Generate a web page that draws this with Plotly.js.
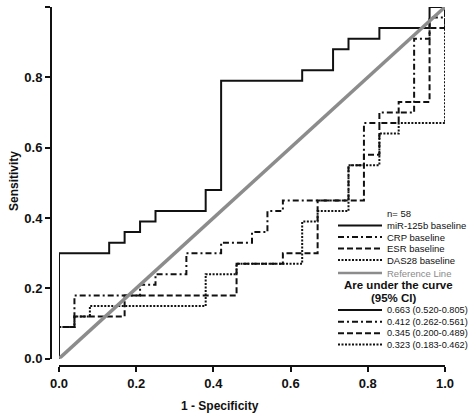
<!DOCTYPE html>
<html><head><meta charset="utf-8">
<script src="https://cdn.plot.ly/plotly-3.0.1.min.js"></script>
<style>html,body{margin:0;padding:0;background:#fff;}#chart{width:472px;height:416px;}</style>
</head><body><div id="chart"></div>
<script>
// ROC step points (1 - specificity, sensitivity)
const mirX = [0, 0, 0.13, 0.17, 0.21, 0.25, 0.38, 0.42, 0.63, 0.71, 0.75, 0.83, 0.96, 1.0];
const mirY = [0, 0.30, 0.33, 0.36, 0.39, 0.42, 0.48, 0.79, 0.82, 0.88, 0.91, 0.94, 1.0, 1.0];
const crpX = [0, 0, 0.04, 0.21, 0.25, 0.33, 0.42, 0.50, 0.54, 0.58, 0.75, 0.79, 0.83, 0.92, 0.96, 1.0];
const crpY = [0, 0.09, 0.18, 0.21, 0.24, 0.30, 0.33, 0.36, 0.42, 0.45, 0.55, 0.67, 0.70, 0.91, 0.97, 1.0];
const esrX = [0, 0, 0.04, 0.17, 0.46, 0.58, 0.67, 0.79, 0.83, 0.88, 0.96, 1.0];
const esrY = [0, 0.09, 0.12, 0.18, 0.27, 0.30, 0.45, 0.58, 0.67, 0.73, 0.94, 1.0];
const dasX = [0, 0, 0.04, 0.08, 0.38, 0.46, 0.63, 0.67, 0.75, 0.83, 0.88, 1.0];
const dasY = [0, 0.09, 0.12, 0.15, 0.24, 0.27, 0.39, 0.42, 0.55, 0.64, 0.67, 1.0];
const refX = [0, 1];
const refY = [0, 1];

const tickVals = [0, 0.2, 0.4, 0.6, 0.8, 1.0];
const tickText = ['0.0', '0.2', '0.4', '0.6', '0.8', '1.0'];
const seriesNames = ['miR-125b baseline', 'CRP baseline', 'ESR baseline', 'DAS28 baseline'];
const refName = 'Reference Line';
const aucLabels = ['0.663 (0.520-0.805)', '0.412 (0.262-0.561)', '0.345 (0.200-0.489)', '0.323 (0.183-0.462)'];
const sampleSize = 'n= 58';
const aucTitle = 'Are under the curve';
const aucSub = '(95% CI)';

const FONT = 'Liberation Sans, Arial, sans-serif';
const dashes = ['solid', '6px,3px,2px,3px', '6px,3px', '2px,1.5px'];
const black = '#111';
const gray = '#8c8c8c';

const W = 472, H = 416;
const M = {l: 51, r: 27, t: 7, b: 50};
const PW = W - M.l - M.r, PH = H - M.t - M.b;
const px = v => (v - M.l) / PW;
const py = v => (H - M.b - v) / PH;

const xs = [mirX, crpX, esrX, dasX];
const ys = [mirY, crpY, esrY, dasY];
const traces = xs.map((x, i) => ({
  type: 'scatter', mode: 'lines', x: x, y: ys[i], name: seriesNames[i],
  line: {color: black, width: 2, dash: dashes[i], shape: 'hv'},
  cliponaxis: false, hoverinfo: 'skip'
}));
traces.push({
  type: 'scatter', mode: 'lines', x: refX, y: refY, name: refName,
  line: {color: gray, width: 3.5}, cliponaxis: false, hoverinfo: 'skip'
});

const shapes = [];
const annotations = [];
const lx0 = 338, lx1 = 382, tx = 385;
const nameRows = [225.5, 237, 248.5, 260];
const aucRows = [310, 321.7, 333.3, 344.5];
const legText = (t, x, y, opts) => Object.assign({
  xref: 'paper', yref: 'paper', x: px(x), y: py(y), text: t, showarrow: false,
  xanchor: 'left', yanchor: 'middle', font: {family: FONT, size: 9.5, color: '#111'}
}, opts || {});
annotations.push(legText(sampleSize, tx, 213.5));
seriesNames.forEach((n, i) => {
  shapes.push({type: 'line', xref: 'paper', yref: 'paper', x0: px(lx0), x1: px(lx1), y0: py(nameRows[i]), y1: py(nameRows[i]),
    line: {color: black, width: 2, dash: dashes[i]}});
  annotations.push(legText(n, tx, nameRows[i]));
});
shapes.push({type: 'line', xref: 'paper', yref: 'paper', x0: px(lx0), x1: px(lx1), y0: py(273), y1: py(273),
  line: {color: gray, width: 2.5}});
annotations.push(legText(refName, tx, 273, {font: {family: FONT, size: 9.5, color: '#8a8a8a'}}));
annotations.push(legText(aucTitle, 398, 285, {xanchor: 'center', font: {family: FONT, size: 11.5, color: '#111', weight: 'bold'}}));
annotations.push(legText(aucSub, 394, 298.3, {xanchor: 'center', font: {family: FONT, size: 11.5, color: '#111', weight: 'bold'}}));
aucLabels.forEach((t, i) => {
  shapes.push({type: 'line', xref: 'paper', yref: 'paper', x0: px(lx0), x1: px(lx1), y0: py(aucRows[i]), y1: py(aucRows[i]),
    line: {color: black, width: 2, dash: dashes[i]}});
  annotations.push(legText(t, tx, aucRows[i], {font: {family: FONT, size: 9.2, color: '#111'}}));
});
annotations.push({xref: 'paper', yref: 'paper', x: px(14), y: py(181), text: 'Sensitivity', showarrow: false,
  textangle: -90, xanchor: 'center', yanchor: 'middle', font: {family: FONT, size: 12, color: '#111', weight: 'bold'}});
annotations.push({xref: 'paper', yref: 'paper', x: px(219.5), y: py(406), text: '1 - Specificity', showarrow: false,
  xanchor: 'center', yanchor: 'middle', font: {family: FONT, size: 12, color: '#111', weight: 'bold'}});

const axisCommon = {
  range: [0, 1], anchor: 'free', position: 0, showline: true, linewidth: 2, linecolor: black,
  ticks: 'outside', ticklen: 5, tickwidth: 2, tickcolor: black, tickvals: tickVals, ticktext: tickText,
  tickfont: {family: FONT, size: 13, color: '#111', weight: 'bold'}, showgrid: false, zeroline: false, fixedrange: true
};
const layout = {
  width: W, height: H, margin: M, showlegend: false,
  paper_bgcolor: '#fff', plot_bgcolor: '#fff',
  xaxis: Object.assign({}, axisCommon, {domain: [8 / PW, 1]}),
  yaxis: Object.assign({}, axisCommon, {domain: [7.3 / PH, 1]}),
  shapes: shapes, annotations: annotations
};
Plotly.newPlot('chart', traces, layout, {displayModeBar: false, staticPlot: true});
</script></body></html>
